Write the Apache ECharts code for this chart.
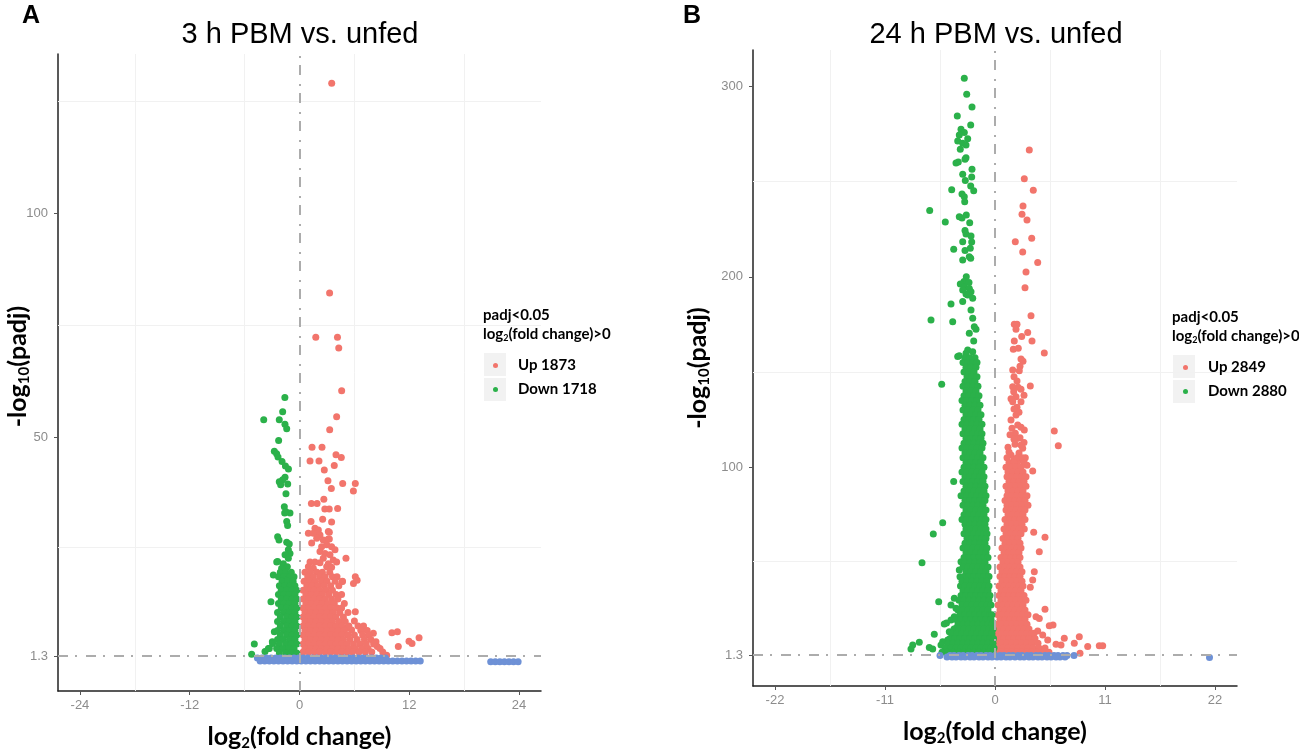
<!DOCTYPE html>
<html>
<head>
<meta charset="utf-8">
<title>Volcano plots: 3 h and 24 h PBM vs. unfed</title>
<script src="https://cdn.jsdelivr.net/npm/echarts@6/dist/echarts.min.js"></script>
<style>
    html, body { margin: 0; padding: 0; background: #fff; }
    #chart { width: 1299px; height: 749px; }
</style>
</head>
<body>
<div id="chart"></div>
<script>
// values (x = log2 fold change, y = -log10 padj)

const padjCut = 1.3;
const fcCut = 0;

// ---------- panel A: 3 h PBM vs. unfed ----------
const xTicks3h = [-24, -12, 0, 12, 24];
const yTicks3h = [1.3, 50, 100];
const xMinor3h = [-18, -6, 6, 18];
const yMinor3h = [25.65, 75, 125];
const names3h = ['Up 1873', 'Down 1718'];

// scattered up-regulated genes [x, y]
const up3h = [
    [3.52, 129.1], [3.29, 82.3], [1.78, 72.4], [4.15, 72.4], [4.29, 70], [4.61, 60.5], [4.06, 54.7],
    [3.3, 51.8], [1.37, 47.9], [2.46, 47.9], [3.99, 46.2], [4.57, 45.6], [1.15, 44.8], [2.13, 44.8],
    [3.8, 43.8], [2.71, 42.8], [3.11, 40.4], [4.72, 39.8], [6.1, 39.8], [3.48, 38.7], [5.89, 38.1],
    [2.66, 36.3], [1.3, 35.3], [1.92, 35.3], [2.77, 34.1], [3.25, 34.1], [4.17, 34.2], [2.53, 31.8],
    [1.26, 31.3], [3.51, 31.2], [0.97, 28.7], [1.8, 29.4], [1.97, 28.7], [3.26, 28.9], [3.15, 27.4],
    [1.69, 29.8], [2.06, 29.4], [1.51, 28.7], [2.24, 28.3], [1.88, 27.6], [2.6, 27.2], [1.33, 26.5],
    [3.15, 29.1], [3.26, 27.4], [2.42, 25.7], [2.97, 26.1], [3.51, 25.7], [3.88, 25], [2.24, 24.6],
    [2.79, 24.2], [3.33, 23.9], [2.6, 23.1], [3.69, 22.7], [1.15, 22.3], [1.69, 22.3], [2.24, 22.1],
    [3.15, 21.9], [4.06, 22.3], [5.08, 23.1], [0.97, 21.2], [1.51, 20.9], [2.97, 21.2], [3.51, 21.1],
    [4.68, 17.9], [5.9, 17.5], [6.1, 19], [6.3, 18.2], [6.1, 11.2], [6.0, 9.1], [5.15, 7.5], [5.7, 7.1],
    [10.1, 6.5], [10.7, 6.7], [8.07, 6.4], [8.36, 4.5], [8.5, 3.4], [11.97, 4.6], [12.3, 4.1],
    [13.07, 5.4], [10.8, 3.4], [9.53, 1.5]
];
// dense part, one row per y: [y, x1, x2, ...]
const up3hRows = [
    [20, 0.6, 1.2, 1.9, 2.5, 3.3],
    [19, 0.9, 1.5, 2.2, 2.8, 3.6, 4.1],
    [18, 0.5, 1.1, 1.7, 2.4, 3.0, 3.9, 4.7],
    [17, 0.8, 1.4, 2.0, 2.7, 3.4, 4.3],
    [16, 0.4, 1.0, 1.6, 2.2, 2.9, 3.6],
    [15, 0.7, 1.3, 1.9, 2.5, 3.2, 4.0, 4.6],
    [14, 0.4, 1.0, 1.6, 2.2, 2.8, 3.5, 4.2],
    [13, 0.7, 1.3, 1.9, 2.5, 3.1, 3.8, 4.9],
    [12, 0.4, 1.0, 1.6, 2.2, 2.8, 3.4, 4.1, 4.6],
    [11, 0.6, 1.2, 1.8, 2.4, 3.0, 3.7, 4.4, 5.3],
    [10, 0.4, 1.0, 1.6, 2.2, 2.8, 3.4, 4.0, 4.8],
    [9, 0.6, 1.2, 1.8, 2.4, 3.0, 3.6, 4.3, 5.0],
    [8, 0.4, 1.0, 1.6, 2.2, 2.8, 3.4, 4.0, 4.6, 5.4, 6.4, 7.0],
    [7, 0.6, 1.2, 1.8, 2.4, 3.0, 3.6, 4.2, 4.9, 6.7, 7.4],
    [6, 0.4, 1.0, 1.6, 2.2, 2.8, 3.4, 4.0, 4.6, 5.3, 6.0, 6.9, 7.6],
    [5, 0.6, 1.2, 1.8, 2.4, 3.0, 3.6, 4.2, 4.8, 5.5, 6.3, 7.1, 7.8],
    [4, 0.4, 1.0, 1.6, 2.2, 2.8, 3.4, 4.0, 4.6, 5.2, 5.9, 6.6, 7.3, 8.1],
    [3, 0.6, 1.2, 1.8, 2.4, 3.0, 3.6, 4.2, 4.8, 5.4, 6.1, 6.8, 7.5, 8.8],
    [2.2, 0.4, 1.0, 1.6, 2.2, 2.8, 3.4, 4.0, 4.6, 5.2, 5.8, 6.5, 7.2, 7.9, 9.1]
];

const down3h = [
    [-1.6, 59], [-1.84, 55.8], [-3.91, 54], [-2.21, 54], [-1.59, 53], [-1.4, 52], [-2.28, 49.4],
    [-2.75, 47], [-2.5, 46.4], [-2.35, 45.7], [-1.91, 44.7], [-1.54, 43.7], [-1.21, 43],
    [-1.58, 41.2], [-1.84, 40.6], [-2.21, 40.2], [-2.06, 39.5], [-1.29, 39.7], [-1.48, 37.5],
    [-1.66, 34.6], [-1.48, 33.5], [-1.04, 33.2], [-1.62, 33.2], [-1.4, 31.3], [-1.3, 30.4],
    [-2.39, 27.9], [-2.24, 27.2], [-1.4, 26.7], [-1.12, 26.3], [-1.22, 25], [-1.04, 24.2],
    [-1.58, 23.9], [-1.22, 23.1], [-2.49, 22.3], [-1.77, 21.9], [-1.33, 21.2], [-1.95, 20.9],
    [-2.39, 22.4], [-2.86, 19.4], [-3.12, 13.4], [-2.75, 6.7], [-2.97, 4.5], [-3.3, 3.0],
    [-3.77, 2.3], [-4.94, 4.0], [-5.23, 1.7], [-2.94, 4.1], [-3.4, 3.0]
];
const down3hRows = [
    [20, -2.1, -1.5, -0.9],
    [19, -2.3, -1.7, -1.1, -0.6],
    [18, -1.9, -1.3, -0.7],
    [17, -2.2, -1.6, -1.0, -0.5],
    [16, -2.0, -1.4, -0.8, -0.3],
    [15, -2.3, -1.7, -1.1, -0.5],
    [14, -2.0, -1.4, -0.8, -0.3],
    [13, -2.3, -1.7, -1.1, -0.5],
    [12, -2.0, -1.4, -0.8, -0.3],
    [11, -2.4, -1.7, -1.1, -0.5],
    [10, -2.1, -1.4, -0.8, -0.3],
    [9, -2.4, -1.7, -1.1, -0.5],
    [8, -2.1, -1.4, -0.8, -0.3],
    [7, -2.4, -1.7, -1.1, -0.5],
    [6, -2.1, -1.4, -0.8, -0.3],
    [5, -2.4, -1.8, -1.1, -0.5],
    [4, -2.2, -1.5, -0.9, -0.3],
    [3, -2.5, -1.8, -1.2, -0.6],
    [2, -2.2, -1.5, -0.9, -0.3]
];

// not significant genes, a flat band just under the cutoff
const ns3hRows = [
    [0.85, -4.6, -4.1, -3.6, -3.1, -2.6, -2.1, -1.6, -1.1, -0.6, -0.1, 0.4, 0.9, 1.4, 1.9, 2.4, 2.9,
        3.4, 3.9, 4.4, 4.9, 5.4, 5.9, 6.4, 6.9, 7.4, 7.9, 8.4, 8.9, 9.4],
    [0.2, -4.3, -3.8, -3.3, -2.8, -2.3, -1.8, -1.3, -0.8, -0.3, 0.2, 0.7, 1.2, 1.7, 2.2, 2.7, 3.2,
        3.7, 4.2, 4.7, 5.2, 5.7, 6.2, 6.7, 7.2, 7.7, 8.2, 8.7, 9.2, 9.7, 10.2, 10.7, 11.2, 11.7,
        12.2, 12.7, 13.2],
    [0.05, 20.9, 21.4, 21.9, 22.4, 22.9, 23.4, 23.9]
];

// ---------- panel B: 24 h PBM vs. unfed ----------
const xTicks24h = [-22, -11, 0, 11, 22];
const yTicks24h = [1.3, 100, 200, 300];
const xMinor24h = [-16.5, -5.5, 5.5, 16.5];
const yMinor24h = [50.65, 150, 250];
const names24h = ['Up 2849', 'Down 2880'];

const up24h = [
    [3.43, 266.7], [2.93, 251.6], [3.83, 245.5], [2.8, 237.2], [2.7, 232.9], [3.2, 229.9],
    [2.03, 218.5], [3.67, 220.3], [2.77, 213.1], [4.27, 207.6], [3.1, 202.6], [3.0, 194.3],
    [3.6, 179.6], [1.93, 175.1], [2.2, 175.1], [2.1, 172.4], [3.27, 170.7], [2.67, 168.6],
    [1.93, 166.3], [3.7, 166.3], [1.83, 162], [2.33, 162.5], [4.93, 160], [2.6, 156.8], [2.8, 155.6],
    [2.5, 153], [1.77, 151.1], [2.43, 150.6], [1.9, 147.5], [2.2, 145.3], [3.53, 142.7], [2.3, 142],
    [1.77, 142.3], [2.6, 140.9], [1.87, 139.6], [2.9, 137.8], [2.1, 137], [1.6, 136], [2.6, 134.3],
    [1.77, 134.3], [2.2, 131.5], [1.9, 130.5], [2.4, 128.9], [2.1, 127.4], [1.6, 124.8], [2.27, 122.2],
    [2.6, 121], [1.7, 120.5], [2.93, 119.5], [2.03, 117.8], [1.5, 117], [2.5, 115.5], [2.2, 115],
    [1.9, 114.6], [2.9, 113], [5.93, 119], [6.33, 111.3], [2.0, 112], [2.6, 111.7], [1.3, 110.5],
    [2.77, 109.9], [1.4, 108], [2.4, 107.5], [1.6, 106.4], [3.03, 105], [1.9, 104], [2.27, 102.9],
    [3.2, 101], [3.77, 98], [2.93, 67.5], [3.87, 65.8], [5.0, 63.1], [4.43, 55.6],
    [3.93, 45.1], [3.77, 40.7], [3.53, 36.9], [5.0, 25.3], [4.1, 21.4], [4.43, 20.5], [5.43, 16.7],
    [5.8, 17.1], [4.27, 13.9], [4.77, 11.8], [3.9, 12.7], [6.93, 10.1], [8.43, 10.9], [7.93, 7.4],
    [6.1, 6.9], [9.27, 5.7], [10.43, 6.2], [10.77, 6.2], [8.5, 2.2], [5.27, 9.2], [6.6, 6.6]
];
const up24hRows = [
    [105, 1.2, 2.2, 2.7],
    [102.5, 1.4, 1.9, 2.9],
    [100, 1.1, 1.6, 2.1, 2.6],
    [97.5, 1.3, 1.8, 2.3, 2.8],
    [95, 1.2, 1.7, 2.2, 2.7, 3.1],
    [92.5, 1.4, 1.9, 2.4, 2.9],
    [90, 1.1, 1.6, 2.1, 2.6, 3.1],
    [87.5, 1.3, 1.8, 2.3, 2.8],
    [85, 1.2, 1.7, 2.2, 2.7, 3.2],
    [82.5, 1.0, 1.5, 2.0, 2.5, 3.0],
    [80, 1.2, 1.7, 2.2, 2.7, 3.3],
    [77.5, 1.1, 1.6, 2.1, 2.6, 3.0],
    [75, 1.3, 1.8, 2.3, 2.8],
    [72.5, 1.0, 1.5, 2.0, 2.5, 3.0],
    [70, 1.2, 1.7, 2.2, 2.7],
    [67.5, 0.9, 1.4, 1.9, 2.4],
    [65, 1.1, 1.6, 2.1, 2.6],
    [62.5, 0.8, 1.3, 1.8, 2.3],
    [60, 1.0, 1.5, 2.0, 2.5],
    [57.5, 0.7, 1.2, 1.7, 2.2, 2.6],
    [55, 0.9, 1.4, 1.9, 2.4],
    [52.5, 0.6, 1.1, 1.6, 2.1, 2.5],
    [50, 0.8, 1.3, 1.8, 2.3],
    [47.5, 0.5, 1.0, 1.5, 2.0, 2.5],
    [45, 0.7, 1.2, 1.7, 2.2, 2.7],
    [42.5, 0.5, 1.0, 1.5, 2.0, 2.5],
    [40, 0.7, 1.2, 1.7, 2.2, 2.7],
    [37.5, 0.4, 0.9, 1.4, 1.9, 2.4, 2.8],
    [35, 0.6, 1.1, 1.6, 2.1, 2.6],
    [32.5, 0.4, 0.9, 1.4, 1.9, 2.4, 2.9],
    [30, 0.6, 1.1, 1.6, 2.1, 2.6, 3.1],
    [27.5, 0.3, 0.8, 1.3, 1.8, 2.3, 2.8],
    [25, 0.5, 1.0, 1.5, 2.0, 2.5, 3.0],
    [22.5, 0.3, 0.8, 1.3, 1.8, 2.3, 2.8, 3.3],
    [20, 0.5, 1.0, 1.5, 2.0, 2.5, 3.0],
    [17.5, 0.2, 0.7, 1.2, 1.7, 2.2, 2.7, 3.2],
    [15, 0.4, 0.9, 1.4, 1.9, 2.4, 2.9, 3.4],
    [12.5, 0.2, 0.7, 1.2, 1.7, 2.2, 2.7, 3.2, 3.7],
    [10, 0.4, 0.9, 1.4, 1.9, 2.4, 2.9, 3.4, 4.0],
    [7.5, 0.2, 0.7, 1.2, 1.7, 2.2, 2.7, 3.2, 3.7, 4.3],
    [5, 0.3, 0.8, 1.3, 1.8, 2.3, 2.8, 3.3, 3.8, 4.4, 5.0],
    [2.8, 0.2, 0.7, 1.2, 1.7, 2.2, 2.7, 3.2, 3.7, 4.2, 4.8, 5.4]
];

const down24h = [
    [-3.07, 304.3], [-2.83, 295.9], [-2.3, 289.3], [-3.77, 284.5], [-2.43, 279.8], [-3.4, 277.5],
    [-3.07, 275.8], [-3.57, 274.6], [-2.73, 272.5], [-3.73, 271.4], [-3.23, 270.2], [-2.9, 269.3],
    [-3.47, 267], [-2.9, 262.6], [-3.0, 261.8], [-3.9, 259.8], [-3.67, 260.3], [-2.3, 256.5],
    [-3.23, 253.9], [-2.33, 252.5], [-2.97, 250.6], [-2.43, 247.8], [-2.13, 245.3], [-4.33, 245.8],
    [-3.3, 243.5], [-3.07, 242.1], [-3.03, 239.5], [-6.53, 234.8], [-3.57, 231.6], [-2.87, 232.5],
    [-3.3, 230.9], [-4.97, 228.8], [-2.53, 228.4], [-3.0, 224.3], [-2.9, 222.5], [-2.4, 221.5],
    [-3.23, 218.5], [-2.33, 218.3], [-2.47, 215], [-4.13, 214.5], [-3.0, 213.8], [-2.57, 210.6],
    [-3.23, 208.9], [-2.43, 209.8], [-2.87, 200.1], [-3.1, 197.5], [-2.6, 197], [-3.47, 196.3],
    [-3.07, 194.8], [-2.57, 193.9], [-2.4, 192.2], [-3.23, 193.1], [-2.9, 191], [-2.73, 190.5],
    [-2.23, 188.7], [-3.23, 187], [-4.4, 185.7], [-2.4, 182.6], [-2.23, 178.2], [-6.4, 177.3],
    [-4.23, 176.4], [-2.07, 173.8], [-1.9, 172.4], [-2.57, 170.3], [-2.13, 166.3], [-2.73, 161.6],
    [-2.23, 160.7], [-3.57, 158.6], [-2.9, 159.8], [-3.73, 158.1], [-5.33, 143.5], [-4.13, 92.4],
    [-5.23, 70.8], [-6.17, 64.9], [-7.3, 49.8], [-3.4, 50.3], [-3.57, 46], [-3.5, 42.4],
    [-3.45, 37.6], [-5.63, 29.3], [-4.07, 31.1], [-4.4, 27.6], [-3.9, 25.8], [-4.07, 21.4],
    [-4.4, 19.7], [-5.07, 17.6], [-3.9, 15.3], [-4.85, 18.1], [-4.57, 13.5], [-6.07, 12.2],
    [-4.23, 10.9], [-4.73, 9.2], [-5.23, 8.3], [-7.57, 8.0], [-8.23, 6.6], [-8.4, 4.5],
    [-6.23, 4.5], [-6.57, 5.2], [-5.4, 6.6]
];
const down24hRows = [
    [157.5, -3.0, -2.5, -2.0],
    [155, -3.2, -2.7, -2.2, -1.8],
    [152.5, -2.9, -2.4, -1.9],
    [150, -3.1, -2.6, -2.1],
    [147.5, -2.8, -2.3, -1.8],
    [145, -3.0, -2.5, -2.0],
    [142.5, -3.2, -2.7, -2.2, -1.7],
    [140, -2.9, -2.4, -1.9],
    [137.5, -3.1, -2.6, -2.1, -1.6],
    [135, -3.3, -2.8, -2.3, -1.8],
    [132.5, -3.0, -2.5, -2.0, -1.5],
    [130, -3.2, -2.7, -2.2, -1.7],
    [127.5, -2.9, -2.4, -1.9, -1.4],
    [125, -3.1, -2.6, -2.1, -1.6],
    [122.5, -3.3, -2.8, -2.3, -1.8, -1.3],
    [120, -3.0, -2.5, -2.0, -1.5],
    [117.5, -3.2, -2.7, -2.2, -1.7, -1.3],
    [115, -2.9, -2.4, -1.9, -1.4],
    [112.5, -3.1, -2.6, -2.1, -1.6, -1.2],
    [110, -3.3, -2.8, -2.3, -1.8, -1.3],
    [107.5, -3.0, -2.5, -2.0, -1.5],
    [105, -3.2, -2.7, -2.2, -1.7, -1.2],
    [102.5, -2.9, -2.4, -1.9, -1.4],
    [100, -3.1, -2.6, -2.1, -1.6, -1.1],
    [97.5, -3.3, -2.8, -2.3, -1.8, -1.3],
    [95, -3.0, -2.5, -2.0, -1.5, -1.1],
    [92.5, -3.2, -2.7, -2.2, -1.7, -1.2],
    [90, -2.9, -2.4, -1.9, -1.4, -1.0],
    [87.5, -3.1, -2.6, -2.1, -1.6, -1.1],
    [85, -3.4, -2.8, -2.3, -1.8, -1.3, -0.9],
    [82.5, -3.0, -2.5, -2.0, -1.5, -1.0],
    [80, -3.2, -2.7, -2.2, -1.7, -1.2],
    [77.5, -2.9, -2.4, -1.9, -1.4, -0.9],
    [75, -3.1, -2.6, -2.1, -1.6, -1.1],
    [72.5, -3.3, -2.8, -2.3, -1.8, -1.3, -0.9],
    [70, -3.0, -2.5, -2.0, -1.5, -1.0],
    [67.5, -2.9, -2.4, -1.9, -1.4, -0.9],
    [65, -3.1, -2.6, -2.1, -1.6, -1.1, -0.8],
    [62.5, -2.8, -2.3, -1.8, -1.3, -0.9],
    [60, -3.0, -2.5, -2.0, -1.5, -1.0],
    [57.5, -3.2, -2.7, -2.2, -1.7, -1.2, -0.8],
    [55, -2.9, -2.4, -1.9, -1.4, -0.9],
    [52.5, -3.1, -2.6, -2.1, -1.6, -1.1, -0.7],
    [50, -3.0, -2.5, -2.0, -1.5, -1.0],
    [47.5, -3.2, -2.7, -2.2, -1.7, -1.2, -0.7],
    [45, -2.9, -2.4, -1.9, -1.4, -0.9],
    [42.5, -3.1, -2.6, -2.1, -1.6, -1.1, -0.6],
    [40, -3.3, -2.8, -2.3, -1.8, -1.3, -0.8],
    [37.5, -3.0, -2.5, -2.0, -1.5, -1.0, -0.6],
    [35, -3.2, -2.7, -2.2, -1.7, -1.2, -0.7],
    [32.5, -3.4, -2.9, -2.4, -1.9, -1.4, -0.9, -0.5],
    [30, -3.6, -3.1, -2.6, -2.1, -1.6, -1.1, -0.6],
    [27.5, -3.3, -2.8, -2.3, -1.8, -1.3, -0.8, -0.4],
    [25, -3.7, -3.2, -2.7, -2.2, -1.7, -1.2, -0.7],
    [22.5, -3.5, -3.0, -2.5, -2.0, -1.5, -1.0, -0.5, -0.3],
    [20, -3.9, -3.4, -2.9, -2.4, -1.9, -1.4, -0.9, -0.4],
    [17.5, -3.7, -3.2, -2.7, -2.2, -1.7, -1.2, -0.7, -0.3],
    [15, -4.1, -3.6, -3.1, -2.6, -2.1, -1.6, -1.1, -0.6, -0.2],
    [12.5, -4.3, -3.8, -3.3, -2.8, -2.3, -1.8, -1.3, -0.8, -0.3],
    [10, -4.5, -4.0, -3.5, -3.0, -2.5, -2.0, -1.5, -1.0, -0.5, -0.15],
    [7.5, -4.7, -4.2, -3.7, -3.2, -2.7, -2.2, -1.7, -1.2, -0.7, -0.2],
    [5, -5.0, -4.4, -3.9, -3.4, -2.9, -2.4, -1.9, -1.4, -0.9, -0.4, -0.1],
    [2.8, -5.3, -4.8, -4.2, -3.6, -3.1, -2.6, -2.1, -1.6, -1.1, -0.6, -0.2]
];

const ns24hRows = [
    [1.0, -5.5, -4.5, -4.1, -3.6, -3.2, -2.7, -2.3, -1.8, -1.4, -0.9, -0.5, 0, 0.5, 0.9, 1.4, 1.8, 2.3,
        2.7, 3.2, 3.6, 4.1, 4.5, 5.0, 5.4, 5.9, 6.3, 6.8, 7.2, 7.9],
    [0.2, -4.8, -4.3, -3.9, -3.4, -3.0, -2.5, -2.1, -1.6, -1.2, -0.7, -0.3, 0.2, 0.6, 1.1, 1.5, 2.0,
        2.5, 2.9, 3.4, 3.8, 4.3, 4.7, 5.2, 5.6, 6.1, 6.5, 7.0],
    [0.0, 21.45]
];

// ---------- build ----------
const colors = {up: '#F2756C', down: '#2BB14A', ns: '#6E91D6'};
const fontTick = 'Liberation Sans, Arial, sans-serif';
const fontLabel = 'Lato, Noto Sans, sans-serif';

function rowsToPoints(rows) {
    const points = [];
    rows.forEach(row => {
        for (let i = 1; i < row.length; i++) {
            points.push([row[i], row[0]]);
        }
    });
    return points;
}

function makeAxes(idx, xTicks, yTicks, xRange, yRange, yNameGap, yNamePad) {
    const tickLabel = {color: '#8c8c8c', fontSize: 13, fontFamily: fontTick};
    const rich = {
        t: {fontSize: 25, fontWeight: 'bold', fontFamily: fontLabel, color: '#000'},
        s: {fontSize: 15, fontWeight: 'bold', fontFamily: fontLabel, color: '#000', padding: [14, 0, 0, 0]}
    };
    const x = {
        type: 'value', gridIndex: idx, min: xRange[0], max: xRange[1],
        axisLine: {show: true, onZero: false, lineStyle: {color: '#222', width: 1.5}},
        axisTick: {show: true, length: 4, customValues: xTicks, lineStyle: {color: '#555'}},
        axisLabel: Object.assign({customValues: xTicks, margin: 8}, tickLabel),
        splitLine: {show: false},
        name: '{t|log}{s|2}{t|(fold change)}',
        nameLocation: 'middle', nameGap: 31, nameMoveOverlap: false,
        nameTextStyle: {rich: rich}
    };
    const y = {
        type: 'value', gridIndex: idx, min: yRange[0], max: yRange[1],
        axisLine: {show: true, onZero: false, lineStyle: {color: '#222', width: 1.5}},
        axisTick: {show: true, length: 4, customValues: yTicks, lineStyle: {color: '#555'}},
        axisLabel: Object.assign({customValues: yTicks, margin: 10}, tickLabel),
        splitLine: {show: false},
        name: '{t|-log}{s|10}{t|(padj)}',
        nameLocation: 'middle', nameRotate: 90, nameGap: yNameGap, nameMoveOverlap: false,
        nameTextStyle: {rich: rich, padding: yNamePad}
    };
    return {x, y};
}

function makeSeries(idx, names, up, upRows, down, downRows, nsRows, xMinor, yMinor) {
    const scatter = (name, data, color) => ({
        name: name, type: 'scatter', xAxisIndex: idx, yAxisIndex: idx,
        data: data, symbol: 'circle', symbolSize: 7, silent: true,
        itemStyle: {color: color, opacity: 1}, z: 2
    });
    const lines = (data, style, z) => ({
        type: 'scatter', xAxisIndex: idx, yAxisIndex: idx, data: [], silent: true,
        markLine: {
            silent: true, symbol: ['none', 'none'], label: {show: false}, z: z,
            animation: false, lineStyle: style, data: data, emphasis: {disabled: true}
        }
    });
    return [
        lines(xMinor.map(v => ({xAxis: v})).concat(yMinor.map(v => ({yAxis: v}))),
            {color: '#f1f1f1', width: 1, type: 'solid'}, 1),
        scatter(names[0], up.concat(rowsToPoints(upRows)), colors.up),
        scatter(names[1], down.concat(rowsToPoints(downRows)), colors.down),
        scatter('ns' + idx, rowsToPoints(nsRows), colors.ns),
        lines([{yAxis: padjCut}, {xAxis: fcCut}],
            {color: '#acacac', width: 2, type: [10, 7, 2, 9]}, 5)
    ];
}

function legendOf(names, left, top) {
    return {
        data: names, orient: 'vertical', left: left, top: top, padding: 0,
        icon: 'circle', itemWidth: 5, itemHeight: 5, itemGap: 9,
        selectedMode: false,
        textStyle: {fontFamily: fontLabel, fontWeight: 'bold', fontSize: 15, color: '#000', padding: [0, 0, 0, 15]}
    };
}

function legendDecor(left, top) {
    const rich = {
        b: {fontFamily: fontLabel, fontWeight: 'bold', fontSize: 15, fill: '#000'},
        s: {fontFamily: fontLabel, fontWeight: 'bold', fontSize: 9, fill: '#000', padding: [8, 0, 0, 0]}
    };
    return [
        {type: 'text', left: left, top: top, style: {text: '{b|padj<0.05}', rich: rich}},
        {type: 'text', left: left, top: top + 19, style: {text: '{b|log}{s|2}{b|(fold change)>0}', rich: rich}},
        {type: 'rect', left: left + 1, top: top + 45, shape: {width: 22, height: 23}, style: {fill: '#f2f2f2'}, z: -1},
        {type: 'rect', left: left + 1, top: top + 70, shape: {width: 22, height: 23}, style: {fill: '#f2f2f2'}, z: -1}
    ];
}

function text(str, x, y, size, weight) {
    return {
        type: 'text', x: x, y: y,
        style: {
            text: str, fill: '#000', font: weight + ' ' + size + 'px ' + fontTick,
            align: 'center', verticalAlign: 'middle', textAlign: 'center', textVerticalAlign: 'middle'
        }
    };
}

const axes3h = makeAxes(0, xTicks3h, yTicks3h, [-26.4, 26.4], [-6.5, 135.6], 26, [0, 0, 0, 12]);
const axes24h = makeAxes(1, xTicks24h, yTicks24h, [-24.2, 24.2], [-15, 319.2], 41, [0, 0, 0, 0]);

const option = {
    animation: false,
    backgroundColor: '#fff',
    grid: [
        {left: 58, top: 54, width: 483, height: 637, outerBoundsMode: 'none', containLabel: false},
        {left: 753, top: 50, width: 484, height: 636, outerBoundsMode: 'none', containLabel: false}
    ],
    xAxis: [axes3h.x, axes24h.x],
    yAxis: [axes3h.y, axes24h.y],
    legend: [legendOf(names3h, 493, 358), legendOf(names24h, 1183, 360)],
    series: makeSeries(0, names3h, up3h, up3hRows, down3h, down3hRows, ns3hRows, xMinor3h, yMinor3h)
        .concat(makeSeries(1, names24h, up24h, up24hRows, down24h, down24hRows, ns24hRows, xMinor24h, yMinor24h)),
    graphic: [
        text('A', 31, 16, 25, 'bold'),
        text('B', 692, 16, 25, 'bold'),
        text('3 h PBM vs. unfed', 300, 35, 29, 'normal'),
        text('24 h PBM vs. unfed', 996, 35, 29, 'normal')
    ].concat(legendDecor(483, 308), legendDecor(1172, 310))
};

const chart = echarts.init(document.getElementById('chart'), null, {renderer: 'canvas'});
chart.setOption(option);
</script>
</body>
</html>
